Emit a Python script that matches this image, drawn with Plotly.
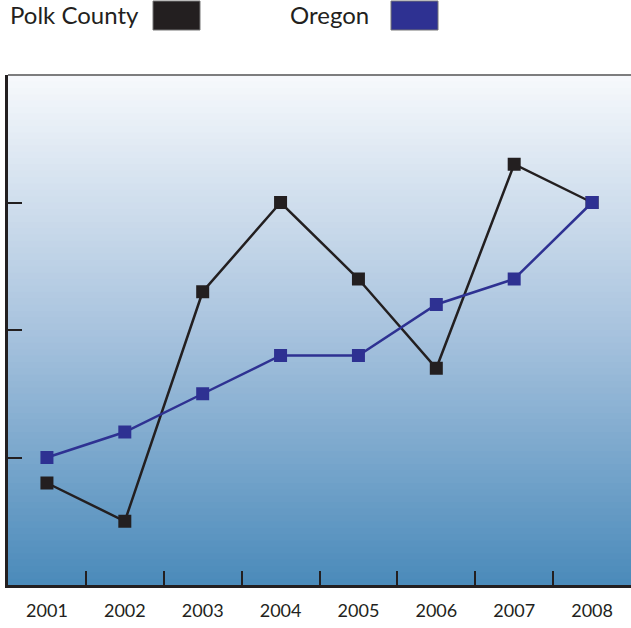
import plotly.graph_objects as go

years = ["2001", "2002", "2003", "2004", "2005", "2006", "2007", "2008"]
polk = [1.6, 1.0, 4.6, 6.0, 4.8, 3.4, 6.6, 6.0]
oregon = [2.0, 2.4, 3.0, 3.6, 3.6, 4.4, 4.8, 6.0]
series_names = ["Polk County", "Oregon"]
series_colors = ["#231f20", "#2e3192"]

fig = go.Figure()
for name, vals, col in zip(series_names, [polk, oregon], series_colors):
    fig.add_trace(go.Scatter(
        x=years, y=vals, name=name, mode="lines+markers",
        line=dict(color=col, width=2.5),
        marker=dict(symbol="square", size=13, color=col),
        showlegend=False, cliponaxis=False,
    ))

# gradient background
top = (247, 249, 252)
mid = (168, 195, 222)
bot = (74, 138, 186)
n = 80
shapes = []
for i in range(n):
    t = (i + 0.5) / n  # 0 bottom -> 1 top
    if t < 0.5:
        a, b, f = bot, mid, t / 0.5
    else:
        a, b, f = mid, top, (t - 0.5) / 0.5
    c = tuple(int(round(a[k] + (b[k] - a[k]) * f)) for k in range(3))
    shapes.append(dict(type="rect", xref="x domain", yref="y domain",
                       x0=0, x1=1, y0=i / n, y1=(i + 1) / n + 0.002,
                       fillcolor="rgb(%d,%d,%d)" % c, line=dict(width=0),
                       layer="below"))
# top border line
shapes.append(dict(type="line", xref="x domain", yref="y domain",
                   x0=0, x1=1, y0=1, y1=1, line=dict(color="#555555", width=1.5)))

# legend swatches (manual)
shapes.append(dict(type="rect", xref="paper", yref="paper", x0=(153-8)/623, x1=(200-8)/623,
                   y0=1 + (75-30)/510, y1=1 + (75-1)/510,
                   fillcolor=series_colors[0], line=dict(color="#777777", width=1)))
shapes.append(dict(type="rect", xref="paper", yref="paper", x0=(391-8)/623, x1=(438-8)/623,
                   y0=1 + (75-30)/510, y1=1 + (75-1)/510,
                   fillcolor=series_colors[1], line=dict(color="#777777", width=1)))

annotations = [
    dict(text=series_names[0], xref="paper", yref="paper", x=0, y=1 + (75-15)/510,
         xanchor="left", yanchor="middle", showarrow=False,
         font=dict(family="Lato", size=24, color="#231f20")),
    dict(text=series_names[1], xref="paper", yref="paper", x=(288-8)/623, y=1 + (75-15)/510,
         xanchor="left", yanchor="middle", showarrow=False,
         font=dict(family="Lato", size=24, color="#231f20")),
]

fig.update_layout(
    width=631, height=628,
    margin=dict(l=8, r=0, t=75, b=43),
    paper_bgcolor="white", plot_bgcolor="white",
    shapes=shapes, annotations=annotations,
    xaxis=dict(type="category", range=[-0.5, 7.5], tickson="boundaries",
               ticks="inside", ticklen=14, tickwidth=2, tickcolor="#231f20",
               showline=True, linecolor="#231f20", linewidth=3,
               showgrid=False, zeroline=False, ticklabelstandoff=7,
               tickfont=dict(family="Lato", size=18, color="#231f20")),
    yaxis=dict(range=[0, 8], tickvals=[0, 2, 4, 6, 8], showticklabels=False,
               ticks="inside", ticklen=14, tickwidth=2, tickcolor="#231f20",
               showline=True, linecolor="#231f20", linewidth=3,
               showgrid=False, zeroline=False),
)

fig.write_html("out.html", config={"displayModeBar": False},
               post_script="document.body.style.margin='0';")
